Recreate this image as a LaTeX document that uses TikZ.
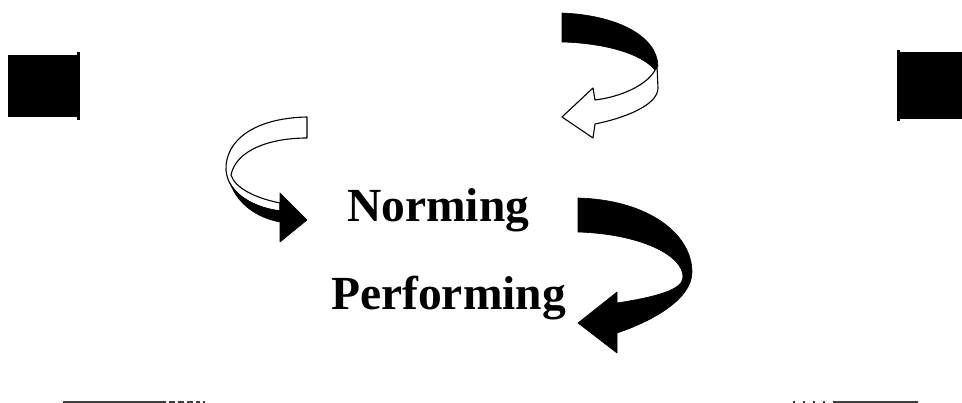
\documentclass[tikz,border=0pt]{standalone}
\usepackage{fontspec}
\setmainfont{Liberation Serif}
\begin{document}
\begin{tikzpicture}[x=1pt,y=-1pt,
  ribbon/.style={fill=white,draw=black,line width=1.1pt,line join=round},
  solidpart/.style={fill=black,draw=black,line width=0.6pt,line join=round},
  stage/.style={inner sep=0pt,anchor=base west,font=\fontsize{47.5}{50}\selectfont\bfseries},
  rule/.style={draw=black!75,line width=2pt}]
\useasboundingbox (0,0) rectangle (962,403);

% corner blocks
\fill (8,55) rectangle (80,117);
\fill (77,52) rectangle (80,120);
\fill (897,52) rectangle (962,119);
\fill (897,50) rectangle (900,121);

% stage labels
\node[stage] (norming) at (347,222) {Norming};
\node[stage] (performing) at (331,310) {Performing};

% top U-turn arrow: dark back of the ribbon, light front with head
\path[solidpart] (562,13) .. controls (615,15) and (657,35) .. (658,66)
  -- (655,70) .. controls (640,52) and (600,43) .. (562,42) -- cycle;
\path[ribbon] (657,66) .. controls (650,85) and (620,97) .. (595,100)
  -- (593,88) -- (562,117) -- (593,138) -- (595,124)
  .. controls (625,118) and (658,105) .. (658,88) -- cycle;

% left U-turn arrow: light ribbon turning into a dark head
\path[ribbon] (307,117) .. controls (255,118) and (225,140) .. (226,170)
  .. controls (228,195) and (255,208) .. (280,211) -- (280,203)
  .. controls (255,198) and (235,188) .. (231,175)
  .. controls (236,150) and (270,138) .. (307,138) -- cycle;
\path[solidpart] (230,183) .. controls (238,205) and (258,218) .. (280,222)
  -- (280,242) -- (307,220) -- (280,193) -- (280,211)
  .. controls (258,208) and (238,198) .. (230,183) -- cycle;

% large solid arrow from Norming down to Performing
\path[solidpart] (578,198) .. controls (650,200) and (692,235) .. (692,272)
  .. controls (692,300) and (650,322) .. (617,333)
  -- (617,353) -- (578,323) -- (617,292) -- (617,303)
  .. controls (655,297) and (683,290) .. (683,277)
  .. controls (683,255) and (640,234) .. (578,232) -- cycle;

% faint rules along the bottom
\draw[rule] (63,402) -- (160,402);
\draw[rule,dash pattern=on 6pt off 3pt] (160,402) -- (200,402);
\draw[rule,dash pattern=on 2pt off 10pt] (203,402) -- (215,402);
\draw[rule,dash pattern=on 2pt off 8pt] (793,402) -- (833,402);
\draw[rule] (833,402) -- (918,402);
\end{tikzpicture}
\end{document}
